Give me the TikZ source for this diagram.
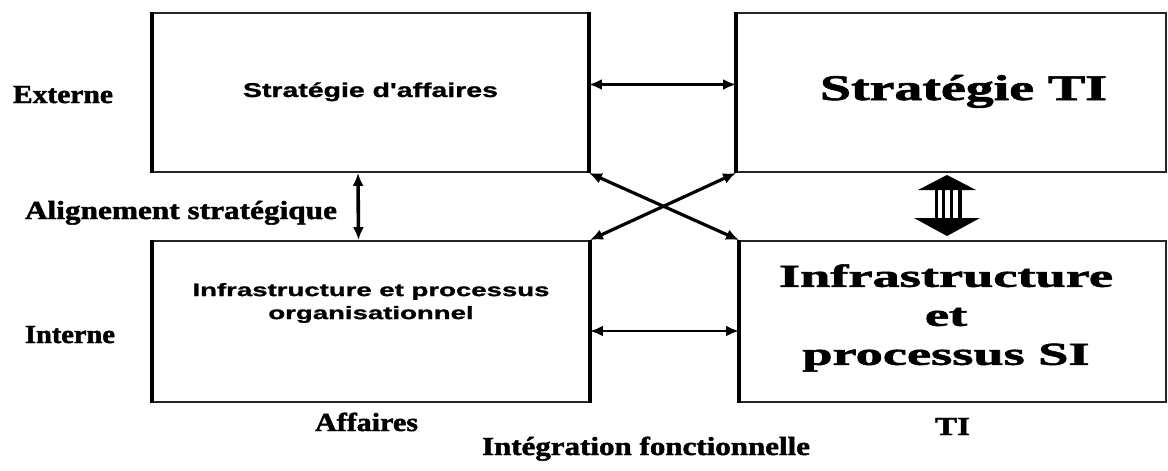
\documentclass[tikz,border=0pt]{standalone}
\usepackage{fontspec}
\usepackage{graphicx}
\usetikzlibrary{arrows.meta}
\setmainfont{Liberation Serif}
\newfontfamily\heavyserif{Liberation Serif}[BoldFeatures={FakeBold=1.6}]
\newfontfamily\grotfont{Liberation Sans}[BoldFeatures={FakeBold=1}]
% stretch a piece of text horizontally to a given width, keeping its height
\newcommand\stretchto[2]{\resizebox{#1}{\height}{#2}}

\begin{document}
\begin{tikzpicture}[x=1pt,y=-1pt,
  box/.style={draw=black!85, line width=1.8pt, inner sep=0pt},
  vedge/.style={draw=black, line width=3.6pt},
  link/.style={draw=black, line width=2.8pt,
    {Latex[length=13pt,width=11pt]}-{Latex[length=13pt,width=11pt]}},
  lbl/.style={anchor=base, inner sep=0pt,
    font=\heavyserif\bfseries\fontsize{26}{30}\selectfont},
  boxtxt/.style={inner sep=0pt, align=center},
]
\fill[white] (0,0) rectangle (1168,471);
\useasboundingbox (0,0) rectangle (1168,471);

% the four boxes
\node[box, minimum width=435pt, minimum height=159pt] (sa) at (370.5,92.5) {};
\node[box, minimum width=429pt, minimum height=159pt] (ti) at (951.5,92.5) {};
\node[box, minimum width=436pt, minimum height=161pt] (io) at (371,321.5) {};
\node[box, minimum width=426pt, minimum height=161pt] (is) at (953,321.5) {};

% heavier vertical sides
\draw[vedge] (sa.north west) -- (sa.south west);
\draw[vedge] (sa.north east) -- (sa.south east);
\draw[vedge] (io.north west) -- (io.south west);
\draw[vedge] (io.north east) -- (io.south east);
\draw[vedge] (ti.north west) -- (ti.south west);
\draw[vedge] (is.north west) -- (is.south west);

% box contents
\node[boxtxt, anchor=base, font=\grotfont\bfseries\fontsize{20}{24}\selectfont] (saT) at (370.5,97)
  {\stretchto{255pt}{Stratégie d'affaires}};
\node[boxtxt, anchor=base, font=\heavyserif\bfseries\fontsize{36}{42}\selectfont] (tiT) at (963.5,100)
  {\stretchto{287pt}{Stratégie TI}};
\node[boxtxt, font=\grotfont\bfseries\fontsize{18}{23}\selectfont] (ioT) at (371,303)
  {\stretchto{357pt}{\begin{tabular}{@{}c@{}}Infrastructure et processus\\organisationnel\end{tabular}}};
\node[boxtxt, font=\heavyserif\bfseries\fontsize{32}{39}\selectfont] (isT) at (946,318)
  {\stretchto{334pt}{\begin{tabular}{@{}c@{}}Infrastructure\\et\\processus SI\end{tabular}}};

% connectors
\draw[link] ([yshift=8pt]sa.east) -- ([yshift=8pt]ti.west);
\draw[link] ([yshift=-9.5pt]io.east) -- ([yshift=-9.5pt]is.west);
\draw[link, line width=3.6pt] ([xshift=-12.5pt]sa.south) -- ([xshift=-12.5pt]io.north);
\draw[link, line width=3.2pt] (sa.south east) -- (is.north west);
\draw[link, line width=3.2pt] (ti.south west) -- (io.north east);

% striped block arrow between the two TI boxes
\coordinate (bu) at (947,175);
\coordinate (bd) at (947,236);
\fill[black] (bu) -- ++(-29,15) -- ++(58,0) -- cycle;
\fill[black] (bd) -- ++(-33,-18) -- ++(66,0) -- cycle;
\foreach \dx in {-10.5,-3.5,4.5,13}
  \draw[line width=3.2pt] (bu) ++(\dx,14) -- ++(0,30);

% side and bottom labels
\node[lbl] (ext) at (63,103) {\stretchto{100pt}{Externe}};
\node[lbl] (int) at (70,343) {\stretchto{90pt}{Interne}};
\node[lbl] (ali) at (181,219) {\stretchto{312pt}{Alignement stratégique}};
\node[lbl] (aff) at (366.5,431) {\stretchto{103pt}{Affaires}};
\node[lbl] (tib) at (952.5,435) {\stretchto{35pt}{TI}};
\node[lbl] (ifn) at (646,455) {\stretchto{328pt}{Intégration fonctionnelle}};
\end{tikzpicture}
\end{document}
